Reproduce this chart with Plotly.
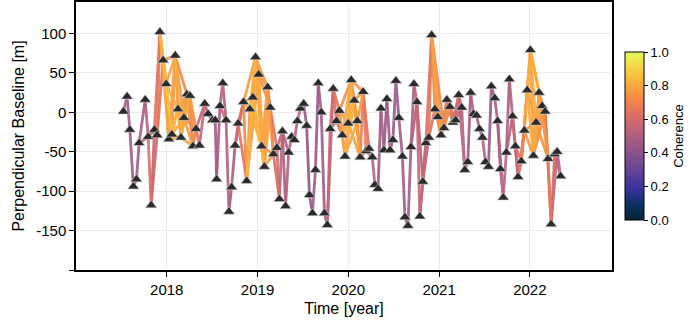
import plotly.graph_objects as go
from plotly.colors import sample_colorscale

# Acquisition times (decimal year) and perpendicular baselines [m]
years = [2017.522, 2017.563, 2017.593, 2017.632, 2017.666, 2017.695, 2017.762, 2017.795, 2017.828, 2017.864,
         2017.894, 2017.924, 2017.960, 2017.993, 2018.023, 2018.056, 2018.093, 2018.123, 2018.156, 2018.189,
         2018.222, 2018.255, 2018.289, 2018.322, 2018.360, 2018.418, 2018.455, 2018.503, 2018.534, 2018.549,
         2018.586, 2018.617, 2018.653, 2018.685, 2018.714, 2018.753, 2018.786, 2018.845, 2018.880, 2018.915,
         2018.948, 2018.978, 2019.012, 2019.044, 2019.075, 2019.111, 2019.140, 2019.174, 2019.213, 2019.241,
         2019.274, 2019.309, 2019.343, 2019.375, 2019.406, 2019.439, 2019.472, 2019.508, 2019.541, 2019.572,
         2019.605, 2019.638, 2019.669, 2019.702, 2019.737, 2019.769, 2019.800, 2019.834, 2019.869, 2019.902,
         2019.934, 2019.964, 2019.999, 2020.032, 2020.065, 2020.099, 2020.131, 2020.164, 2020.195, 2020.228,
         2020.264, 2020.293, 2020.328, 2020.359, 2020.392, 2020.425, 2020.460, 2020.491, 2020.524, 2020.557,
         2020.596, 2020.624, 2020.657, 2020.690, 2020.723, 2020.756, 2020.788, 2020.821, 2020.854, 2020.887,
         2020.918, 2020.954, 2020.986, 2021.021, 2021.054, 2021.085, 2021.119, 2021.152, 2021.183, 2021.216,
         2021.249, 2021.283, 2021.316, 2021.348, 2021.379, 2021.413, 2021.445, 2021.478, 2021.511, 2021.544,
         2021.576, 2021.613, 2021.645, 2021.675, 2021.707, 2021.741, 2021.774, 2021.809, 2021.840, 2021.870,
         2021.906, 2021.939, 2021.970, 2022.006, 2022.039, 2022.068, 2022.102, 2022.135, 2022.168, 2022.201,
         2022.234, 2022.273, 2022.301, 2022.339]

bperp = [1, 20, -22, -94, -85, -39, 16, -31, -118, -22,
         -29, 102, 66, 36, -34, -28, 72, 4, -32, -7,
         23, 21, -43, -21, -42, 11, -2, -10, -10, -85,
         8, 37, -10, -126, -95, -42, -14, 13, -87, 4,
         19, 70, 48, -43, -69, 32, 6, -53, -45, -110,
         -24, -119, -51, -31, -35, -11, 5, 11, -17, -105,
         -128, -73, 37, 0, -128, -143, -21, 30, -11, 2,
         -29, -56, -14, 41, 15, -11, -57, 26, -49, -46,
         -57, -92, -97, 5, -48, 17, -48, -35, 40, -7,
         -56, -133, -144, -44, 36, 13, -132, -88, -39, -32,
         98, 4, -6, -29, -20, 16, 7, -13, -10, 22,
         6, -73, -63, 25, -2, -4, -21, -32, -63, -69,
         33, 18, -11, -72, -108, -51, 42, -5, -43, -82,
         -62, -23, 28, 79, -55, -13, 25, 8, 1, -59,
         -142, -53, -50, -81]

# Coherence level around each acquisition, estimated from the line colours
coh_level = [0.46, 0.44, 0.48, 0.42, 0.44, 0.50, 0.46, 0.58, 0.62, 0.52, 0.56,
             0.76, 0.72, 0.80, 0.74, 0.82, 0.70, 0.76, 0.80, 0.72, 0.68, 0.74, 0.70, 0.66, 0.60,
             0.50, 0.46, 0.44, 0.48, 0.42, 0.54, 0.46, 0.58, 0.44, 0.46, 0.50, 0.56,
             0.68, 0.74, 0.80, 0.82, 0.76, 0.72, 0.74, 0.80, 0.70, 0.68, 0.66, 0.60, 0.56,
             0.50, 0.46, 0.56, 0.44, 0.48, 0.54, 0.58, 0.46, 0.42, 0.42, 0.44, 0.46, 0.42, 0.48,
             0.44, 0.50, 0.56, 0.62, 0.58, 0.66,
             0.74, 0.80, 0.82, 0.74, 0.76, 0.72, 0.70, 0.68, 0.64, 0.60,
             0.54, 0.46, 0.44, 0.50, 0.46, 0.42, 0.48, 0.44, 0.42, 0.46, 0.48, 0.42, 0.44, 0.50,
             0.46, 0.54, 0.58, 0.50, 0.56, 0.60,
             0.72, 0.68, 0.74, 0.70, 0.66, 0.64, 0.68, 0.62, 0.58, 0.56, 0.54,
             0.50, 0.46, 0.44, 0.56, 0.50, 0.46, 0.48, 0.54, 0.46, 0.42, 0.46, 0.50, 0.48, 0.56,
             0.50, 0.46, 0.54, 0.58, 0.56,
             0.64, 0.70, 0.74, 0.80, 0.76, 0.72, 0.74, 0.70, 0.66, 0.68, 0.62, 0.56, 0.54, 0.50]

y_ticks = [-200, -150, -100, -50, 0, 50, 100]
y_ticktext = ["", "-150", "-100", "-50", "0", "50", "100"]
x_ticks = [2018, 2019, 2020, 2021, 2022]
x_ticktext = ["2018", "2019", "2020", "2021", "2022"]

# Build interferogram network (pairs)
n = len(years)
pairs = []
for i in range(n):
    for lag in range(1, 5):
        j = i + lag
        if j >= n:
            break
        m = min(coh_level[i], coh_level[j])
        if lag == 1 or (lag == 2 and m >= 0.5) or (lag >= 3 and m >= 0.66):
            c = (coh_level[i] + coh_level[j]) / 2 + (0.06 if (lag >= 2 and m >= 0.66) else 0) - 0.01 * (lag - 1)
            pairs.append((i, j, max(0.0, min(1.0, c))))

n_bins = 40
bins = [[] for _ in range(n_bins)]
for i, j, c in pairs:
    b = min(n_bins - 1, int(c * n_bins))
    bins[b].append((i, j))

fig = go.Figure()
for b in range(n_bins):
    if not bins[b]:
        continue
    xs, ys = [], []
    for i, j in bins[b]:
        xs += [years[i], years[j], None]
        ys += [bperp[i], bperp[j], None]
    col = sample_colorscale("thermal", [(b + 0.5) / n_bins])[0]
    fig.add_trace(go.Scatter(x=xs, y=ys, mode="lines", line=dict(color=col, width=2.8),
                             opacity=0.9, hoverinfo="skip", showlegend=False))

fig.add_trace(go.Scatter(x=years, y=bperp, mode="markers",
                         marker=dict(symbol="triangle-up", size=10, color="#2a2a2a",
                                     line=dict(color="#d0d0d0", width=0.6)),
                         showlegend=False, hoverinfo="skip"))

# plot area in pixels: x 76..612, y 2..270
pw, ph = 536.0, 268.0
fig.add_trace(go.Scatter(x=[2017.5], y=[1000], mode="markers",
                         marker=dict(color=[0.5], colorscale="thermal", cmin=0, cmax=1, size=1,
                                     showscale=True,
                                     colorbar=dict(x=(625 - 76) / pw, xanchor="left",
                                                   y=(270 - 52) / ph, yanchor="top",
                                                   len=168 / ph, lenmode="fraction",
                                                   thickness=19, outlinecolor="black", outlinewidth=1,
                                                   xpad=0, ypad=0,
                                                   tickvals=[0, 0.2, 0.4, 0.6, 0.8, 1.0],
                                                   ticktext=["0.0", "0.2", "0.4", "0.6", "0.8", "1.0"],
                                                   ticks="outside", ticklen=4, tickcolor="black",
                                                   tickfont=dict(size=13, color="black"),
                                                   title=dict(text="Coherence", side="right",
                                                              font=dict(size=13, color="black")))),
                         showlegend=False, hoverinfo="skip"))

fig.update_layout(
    width=699, height=323,
    margin=dict(l=76, r=87, t=2, b=53, autoexpand=False),
    paper_bgcolor="white", plot_bgcolor="white",
    font=dict(family="Liberation Sans, Arial, sans-serif", color="black"),
    showlegend=False,
    hovermode=False,
)
fig.update_xaxes(range=[2017.0, 2022.905], tickvals=x_ticks, ticktext=x_ticktext,
                 showgrid=True, gridcolor="#ebebeb", gridwidth=1,
                 showline=True, linecolor="black", linewidth=1.5, mirror=True,
                 ticks="outside", ticklen=5, tickcolor="black",
                 tickfont=dict(size=15), zeroline=False,
                 title=dict(text="Time [year]", font=dict(size=16), standoff=6))
fig.update_yaxes(range=[-200, 140], tickvals=y_ticks, ticktext=y_ticktext,
                 showgrid=True, gridcolor="#ebebeb", gridwidth=1,
                 showline=True, linecolor="black", linewidth=1.5, mirror=True,
                 ticks="outside", ticklen=5, tickcolor="black",
                 tickfont=dict(size=15), zeroline=False,
                 title=dict(text="Perpendicular Baseline [m]", font=dict(size=16), standoff=8))

fig.write_html("out.html", config={"displayModeBar": False},
               post_script="document.body.style.margin='0';document.body.style.overflow='hidden';")
